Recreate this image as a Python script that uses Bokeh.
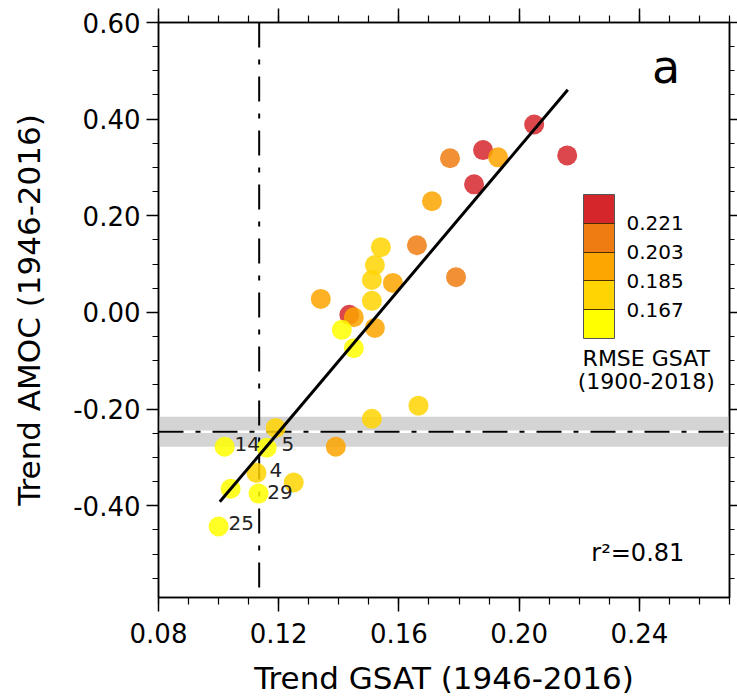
from bokeh.plotting import figure
from bokeh.models import (FixedTicker, PrintfTickFormatter, LinearAxis, ColorBar,
                          LinearColorMapper, BoxAnnotation, ColumnDataSource, Label)
from bokeh.core.properties import value
from bokeh.embed import file_html
from bokeh.resources import INLINE

# ---------------- data ----------------
gsat = [0.205, 0.216, 0.188, 0.193, 0.177, 0.185, 0.171, 0.166, 0.154, 0.179,
        0.158, 0.152, 0.151, 0.151, 0.134, 0.1435, 0.145, 0.152, 0.141, 0.145,
        0.151, 0.1665, 0.139, 0.119, 0.102, 0.116, 0.1126, 0.104, 0.1133, 0.125,
        0.100]
amoc = [0.389, 0.325, 0.336, 0.321, 0.319, 0.265, 0.230, 0.139, 0.135, 0.073,
        0.061, 0.098, 0.067, 0.024, 0.028, -0.005, -0.010, -0.032, -0.036, -0.074,
        -0.220, -0.193, -0.278, -0.239, -0.278, -0.280, -0.332, -0.365, -0.375, -0.352,
        -0.443]
rmse = [0.230, 0.230, 0.230, 0.194, 0.212, 0.230, 0.194, 0.212, 0.176, 0.212,
        0.194, 0.176, 0.176, 0.176, 0.194, 0.230, 0.194, 0.194, 0.158, 0.158,
        0.176, 0.176, 0.194, 0.176, 0.158, 0.158, 0.176, 0.158, 0.158, 0.176,
        0.158]

label_text = ["14", "5", "4", "29", "25"]
label_x = [0.1053, 0.1209, 0.1169, 0.1162, 0.1033]
label_y = [-0.272, -0.272, -0.326, -0.371, -0.435]

fit_x = [0.1004, 0.2162]
fit_y = [-0.392, 0.461]

obs_gsat = 0.1135
obs_amoc = -0.247
obs_amoc_low = -0.278
obs_amoc_high = -0.216

rmse_bounds = [0.149, 0.167, 0.185, 0.203, 0.221, 0.239]
rmse_ticks = [0.167, 0.185, 0.203, 0.221]
palette = ["#FFFF00", "#FFD400", "#FDA500", "#EE7C12", "#D5272B"]

x_ticks = [0.08, 0.12, 0.16, 0.20, 0.24]
x_minor = [round(0.08 + 0.01 * i, 2) for i in range(20)]
y_ticks = [-0.40, -0.20, 0.00, 0.20, 0.40, 0.60]
y_minor = [round(-0.55 + 0.05 * i, 2) for i in range(24)]

FONT = "DejaVu Sans"

# ---------------- figure ----------------
p = figure(width=737, height=699, output_backend="svg", toolbar_location=None,
           x_range=(0.08, 0.27), y_range=(-0.59, 0.60),
           min_border_left=158, min_border_right=8, min_border_top=22,
           min_border_bottom=102, x_axis_location=None, y_axis_location=None)
p.xgrid.visible = False
p.ygrid.visible = False
p.outline_line_color = "black"
p.outline_line_width = 1.5
p.background_fill_color = "white"
p.border_fill_color = "white"

xt = FixedTicker(ticks=x_ticks, minor_ticks=x_minor)
yt = FixedTicker(ticks=y_ticks, minor_ticks=y_minor)


def style_axis(ax, labels=True, tick_out=14, minor_out=7):
    ax.axis_line_width = 1.5
    ax.axis_line_color = "black"
    ax.major_tick_line_width = 1.5
    ax.minor_tick_line_width = 1.2
    ax.major_tick_in = 0
    ax.minor_tick_in = 0
    ax.major_tick_out = tick_out
    ax.minor_tick_out = minor_out
    ax.major_label_text_font = FONT
    ax.axis_label_text_font = FONT
    ax.axis_label_text_font_style = "normal"
    ax.axis_label_text_color = "black"
    ax.major_label_text_color = "black"
    ax.major_label_text_font_size = "26px"
    ax.axis_label_text_font_size = "31px"
    if not labels:
        ax.major_label_overrides = {t: "" for t in ax.ticker.ticks}
        ax.major_label_standoff = 0


xb = LinearAxis(ticker=xt, formatter=PrintfTickFormatter(format="%.2f"),
                axis_label="Trend GSAT (1946-2016)")
style_axis(xb)
xb.major_label_standoff = 11
xb.axis_label_standoff = 14
p.add_layout(xb, "below")

yl = LinearAxis(ticker=yt, formatter=PrintfTickFormatter(format="%.2f"),
                axis_label="Trend AMOC (1946-2016)")
style_axis(yl, tick_out=12, minor_out=6)
yl.major_label_standoff = 6
yl.axis_label_standoff = 23
p.add_layout(yl, "left")

xa = LinearAxis(ticker=xt)
style_axis(xa, labels=False, tick_out=14, minor_out=7)
p.add_layout(xa, "above")

yr = LinearAxis(ticker=yt)
style_axis(yr, labels=False, tick_out=8, minor_out=5)
p.add_layout(yr, "right")

# observational band and reference lines
band = BoxAnnotation(bottom=obs_amoc_low, top=obs_amoc_high, fill_color="#D4D4D4",
                     fill_alpha=1.0, line_color=None, level="underlay")
p.add_layout(band)

xr = [0.08, 0.27]
p.line(xr, [obs_amoc, obs_amoc], line_color="white", line_width=2.5)
p.line(xr, [obs_amoc, obs_amoc], line_color="black", line_width=2,
       line_dash="25 12 5 12")
p.line([obs_gsat, obs_gsat], [0.60, -0.59], line_color="black", line_width=2,
       line_dash="25 12 5 12")

# scatter
mapper = LinearColorMapper(palette=palette, low=rmse_bounds[0], high=rmse_bounds[-1])
src = ColumnDataSource(dict(x=gsat, y=amoc, rmse=rmse))
p.scatter("x", "y", source=src, size=20, fill_color={"field": "rmse", "transform": mapper},
          fill_alpha=0.85, line_color=None)

# regression line
p.line(fit_x, fit_y, line_color="black", line_width=3)

# model labels
lsrc = ColumnDataSource(dict(x=label_x, y=label_y, t=label_text))
p.text("x", "y", text="t", source=lsrc, text_font=value(FONT), text_font_size="20px",
       text_color="#222222", text_align="left", text_baseline="middle")

# panel letter and r^2
p.add_layout(Label(x=0.2489, y=0.507, text="a", text_font=FONT, text_font_size="46px",
                   text_align="center", text_baseline="alphabetic", text_color="black"))
p.add_layout(Label(x=0.224, y=-0.497, text="r²=0.81", text_font=FONT,
                   text_font_size="24px", text_align="left",
                   text_baseline="alphabetic", text_color="black"))

# colour bar
cb = ColorBar(color_mapper=mapper, ticker=FixedTicker(ticks=rmse_ticks),
              formatter=PrintfTickFormatter(format="%.3f"),
              orientation="vertical", width=31, height=144, location=(425, 259),
              padding=0, label_standoff=12, major_label_text_font=FONT,
              major_label_text_font_size="20px", major_label_text_color="black",
              major_tick_in=31, major_tick_out=0, major_tick_line_color="#4a3000",
              major_tick_line_width=1.2, minor_tick_line_color=None,
              bar_line_color="#555555", bar_line_width=1,
              background_fill_alpha=0, border_line_color=None)
p.add_layout(cb)

p.add_layout(Label(x=0.2423, y=-0.096, text="RMSE GSAT", text_font=FONT,
                   text_font_size="22px", text_align="center",
                   text_baseline="alphabetic", text_color="black"))
p.add_layout(Label(x=0.2423, y=-0.143, text="(1900-2018)", text_font=FONT,
                   text_font_size="22px", text_align="center",
                   text_baseline="alphabetic", text_color="black"))

open("out.html", "w").write(file_html(p, INLINE))
